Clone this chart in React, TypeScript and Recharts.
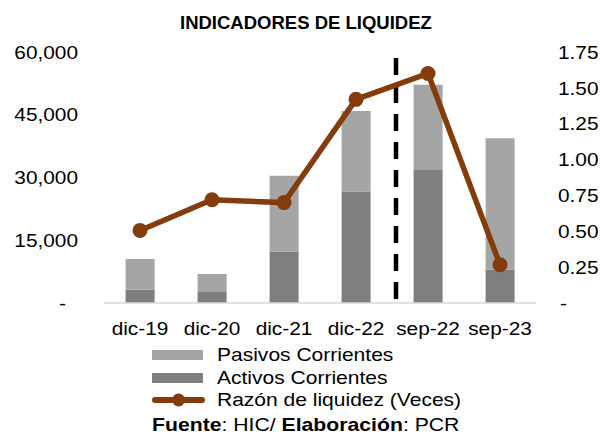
import { Bar, ComposedChart, Line, ReferenceLine, XAxis, YAxis } from "recharts";

const periodos = ["dic-19", "dic-20", "dic-21", "dic-22", "sep-22", "sep-23"];
const activosCorrientes = [3175, 2630, 12320, 26650, 31990, 7950];
const pasivosCorrientes = [7330, 4300, 18070, 19270, 20200, 31440];
const razonLiquidez = [0.506, 0.72, 0.7, 1.42, 1.6, 0.267];
const ticksMontos = [0, 15000, 30000, 45000, 60000];
const ticksRazon = [0, 0.25, 0.5, 0.75, 1.0, 1.25, 1.5, 1.75];
const corte = "sep-22";

const data = periodos.map((p, i) => ({
    periodo: p,
    activos: activosCorrientes[i],
    pasivos: pasivosCorrientes[i],
    razon: razonLiquidez[i],
}));

const FONT = "'Liberation Sans', Arial, sans-serif";
const GRIS_CLARO = "#A5A5A5";
const GRIS_OSCURO = "#7F7F7F";
const CAFE = "#843C0C";
// the original picture is a bit stretched sideways, so the text is too
const ESTIRA = 1.12;

const Texto = ({ x, y, anchor, dy, children }: any) => (
    <g transform={`translate(${x},${y}) scale(${ESTIRA},1)`}>
        <text x={0} y={0} dy={dy} textAnchor={anchor} fontSize={18.6} fill="#000" fontFamily={FONT}>
            {children}
        </text>
    </g>
);

const TickIzq = (props: any) => {
    const { x, y, payload } = props;
    const v = payload.value;
    return (
        <Texto x={v === 0 ? x - 12 : x} y={y} dy="0.36em" anchor="end">
            {v === 0 ? "-" : v.toLocaleString("en-US")}
        </Texto>
    );
};

const TickDer = (props: any) => {
    const { x, y, payload } = props;
    const v = payload.value;
    return (
        <Texto x={v === 0 ? x + 2 : x} y={y} dy="0.36em" anchor="start">
            {v === 0 ? "-" : v.toFixed(2)}
        </Texto>
    );
};

const TickX = (props: any) => {
    const { x, y, payload } = props;
    return (
        <Texto x={x} y={y} dy="0.71em" anchor="middle">
            {payload.value}
        </Texto>
    );
};

const estirado = { display: "inline-block", transform: `scaleX(${ESTIRA + 0.01})`, transformOrigin: "left center" };

const Leyenda = () => (
    <div style={{ fontFamily: FONT, fontSize: 18.6, color: "#000", lineHeight: "22.5px", whiteSpace: "nowrap" }}>
        <div style={{ display: "flex", alignItems: "center" }}>
            <span style={{ width: 51, height: 10, background: GRIS_CLARO, marginRight: 14 }} />
            <span style={estirado}>Pasivos Corrientes</span>
        </div>
        <div style={{ display: "flex", alignItems: "center" }}>
            <span style={{ width: 51, height: 10, background: GRIS_OSCURO, marginRight: 14 }} />
            <span style={estirado}>Activos Corrientes</span>
        </div>
        <div style={{ display: "flex", alignItems: "center" }}>
            <svg width={53} height={16} style={{ marginRight: 12 }}>
                <line x1={3} y1={8} x2={50} y2={8} stroke={CAFE} strokeWidth={6} strokeLinecap="round" />
                <circle cx={26.5} cy={8} r={6.5} fill={CAFE} />
            </svg>
            <span style={estirado}>Razón de liquidez (Veces)</span>
        </div>
    </div>
);

export default function App() {
    return (
        <div style={{ position: "absolute", left: 0, top: 0, width: 600, height: 434, background: "#fff" }}>
            <div
                style={{
                    position: "absolute",
                    top: 12,
                    left: 180,
                    fontFamily: FONT,
                    fontWeight: "bold",
                    fontSize: 18.5,
                    lineHeight: "21px",
                    whiteSpace: "nowrap",
                }}
            >
                INDICADORES DE LIQUIDEZ
            </div>
            <ComposedChart
                width={600}
                height={434}
                data={data}
                margin={{ top: 52, right: 0, left: 0, bottom: 91 }}
                barCategoryGap="30%"
            >
                <XAxis
                    dataKey="periodo"
                    axisLine={{ stroke: "#D9D9D9", strokeWidth: 1.5 }}
                    tickLine={false}
                    tickSize={0}
                    tickMargin={19}
                    height={40}
                    interval={0}
                    tick={<TickX />}
                />
                <YAxis
                    yAxisId="montos"
                    orientation="left"
                    width={104}
                    domain={[0, 60000]}
                    ticks={ticksMontos}
                    interval={0}
                    axisLine={false}
                    tickLine={false}
                    tickSize={0}
                    tickMargin={26}
                    tick={<TickIzq />}
                />
                <YAxis
                    yAxisId="razon"
                    orientation="right"
                    width={64}
                    domain={[0, 1.75]}
                    ticks={ticksRazon}
                    interval={0}
                    axisLine={false}
                    tickLine={false}
                    tickSize={0}
                    tickMargin={22}
                    tick={<TickDer />}
                />
                <Bar yAxisId="montos" dataKey="activos" stackId="a" fill={GRIS_OSCURO} isAnimationActive={false} />
                <Bar yAxisId="montos" dataKey="pasivos" stackId="a" fill={GRIS_CLARO} isAnimationActive={false} />
                <ReferenceLine
                    yAxisId="montos"
                    x={corte}
                    position="start"
                    shape={(p: any) => (
                        <line
                            x1={p.x1 + 4}
                            x2={p.x2 + 4}
                            y1={p.y1 - 4}
                            y2={p.y2 + 3}
                            stroke="#000"
                            strokeWidth={4.5}
                            strokeDasharray="17 11"
                        />
                    )}
                />
                <Line
                    yAxisId="razon"
                    dataKey="razon"
                    stroke={CAFE}
                    strokeWidth={5.5}
                    dot={{ r: 7.5, fill: CAFE, stroke: CAFE, strokeWidth: 0 }}
                    isAnimationActive={false}
                />
            </ComposedChart>
            <div style={{ position: "absolute", left: 152, top: 344 }}>
                <Leyenda />
            </div>
            <div
                style={{
                    position: "absolute",
                    top: 414,
                    left: 152,
                    fontFamily: FONT,
                    fontSize: 18.6,
                    lineHeight: "22px",
                    color: "#000",
                    whiteSpace: "nowrap",
                }}
            >
                <span style={{ ...estirado, transform: "scaleX(1.14)" }}>
                    <b>Fuente</b>: HIC/ <b>Elaboración</b>: PCR
                </span>
            </div>
        </div>
    );
}
